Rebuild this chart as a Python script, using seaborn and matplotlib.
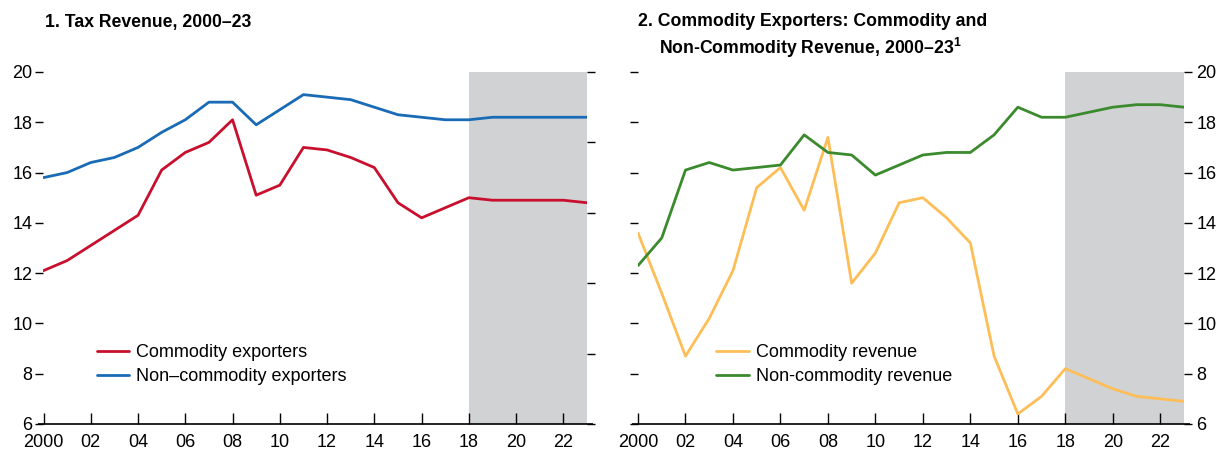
import pandas as pd
import matplotlib
matplotlib.use("Agg")
import matplotlib.pyplot as plt
import seaborn as sns

years = list(range(2000, 2024))

commodity_exporters = [12.1, 12.5, 13.1, 13.7, 14.3, 16.1, 16.8, 17.2, 18.1, 15.1, 15.5, 17.0,
                       16.9, 16.6, 16.2, 14.8, 14.2, 14.6, 15.0, 14.9, 14.9, 14.9, 14.9, 14.8]
non_commodity_exporters = [15.8, 16.0, 16.4, 16.6, 17.0, 17.6, 18.1, 18.8, 18.8, 17.9, 18.5, 19.1,
                           19.0, 18.9, 18.6, 18.3, 18.2, 18.1, 18.1, 18.2, 18.2, 18.2, 18.2, 18.2]

commodity_revenue = [13.6, 11.2, 8.7, 10.2, 12.1, 15.4, 16.2, 14.5, 17.4, 11.6, 12.8, 14.8,
                     15.0, 14.2, 13.2, 8.7, 6.4, 7.1, 8.2, 7.8, 7.4, 7.1, 7.0, 6.9]
non_commodity_revenue = [12.3, 13.4, 16.1, 16.4, 16.1, 16.2, 16.3, 17.5, 16.8, 16.7, 15.9, 16.3,
                         16.7, 16.8, 16.8, 17.5, 18.6, 18.2, 18.2, 18.4, 18.6, 18.7, 18.7, 18.6]

x_ticks = list(range(2000, 2024, 2))
x_labels = ["2000", "02", "04", "06", "08", "10", "12", "14", "16", "18", "20", "22"]
y_ticks = [6, 8, 10, 12, 14, 16, 18, 20]

sns.set_style("white")
plt.rcParams["font.family"] = ["Liberation Sans", "DejaVu Sans"]
plt.rcParams["text.color"] = "black"
plt.rcParams["xtick.color"] = "black"
plt.rcParams["ytick.color"] = "black"
plt.rcParams["mathtext.fontset"] = "custom"
plt.rcParams["mathtext.rm"] = "Liberation Sans"
plt.rcParams["mathtext.bf"] = "Liberation Sans:bold"

RED = "#C8102E"
BLUE = "#1A6BB5"
ORANGE = "#FDBE57"
GREEN = "#3C8A2E"
SHADE = "#D1D2D4"
FS = 13
TFS = 12.7

df1 = pd.DataFrame({
    "year": years * 2,
    "value": commodity_exporters + non_commodity_exporters,
    "series": ["Commodity exporters"] * 24 + ["Non\u2013commodity exporters"] * 24,
})
df2 = pd.DataFrame({
    "year": years * 2,
    "value": commodity_revenue + non_commodity_revenue,
    "series": ["Commodity revenue"] * 24 + ["Non-commodity revenue"] * 24,
})

fig = plt.figure(figsize=(12.16, 4.51), dpi=100)
ax1 = fig.add_axes([43.5 / 1216, 27 / 451, 543.5 / 1216, 352 / 451])
ax2 = fig.add_axes([638 / 1216, 27 / 451, 546 / 1216, 352 / 451])


def style_axis(ax, label_side):
    ax.axvspan(2018, 2023, color=SHADE, lw=0, zorder=0)
    ax.set_xlim(2000, 2023)
    ax.set_ylim(6, 20)
    ax.set_xticks(x_ticks)
    ax.set_xticklabels(x_labels)
    ax.set_yticks(y_ticks)
    ax.set_xlabel("")
    ax.set_ylabel("")
    for s in ax.spines:
        ax.spines[s].set_visible(False)
    # bottom rule runs a tick length past both ends
    ax.plot([-0.011, 1.011], [0, 0], transform=ax.transAxes, color="black",
            lw=1.2, clip_on=False, solid_capstyle="butt")
    ax.tick_params(axis="x", direction="in", length=8, width=1, labelsize=FS, pad=7, bottom=True)
    if label_side == "left":
        ax.tick_params(axis="y", direction="out", length=6, width=1, labelsize=FS, pad=2,
                       left=True, right=False, labelleft=True, labelright=False)
    else:
        ax.tick_params(axis="y", direction="out", length=6, width=1, labelsize=FS, pad=3,
                       left=True, right=True, labelleft=False, labelright=True)


sns.lineplot(data=df1, x="year", y="value", hue="series", palette=[RED, BLUE],
             linewidth=2, ax=ax1, legend=True)
style_axis(ax1, "left")

# unlabelled right-hand scale on panel 1
tw = ax1.twinx()
tw.set_ylim(0, 5)
tw.set_yticks(range(6))
tw.set_yticklabels([])
tw.tick_params(axis="y", direction="out", length=6, width=1, right=True)
for s in tw.spines:
    tw.spines[s].set_visible(False)

sns.lineplot(data=df2, x="year", y="value", hue="series", palette=[ORANGE, GREEN],
             linewidth=2, ax=ax2, legend=True)
style_axis(ax2, "right")

for ax, x0 in [(ax1, 0.098), (ax2, 0.143)]:
    ax.legend(title=None, frameon=False, loc="center left", bbox_to_anchor=(x0, 0.168),
              fontsize=FS, handlelength=1.8, handletextpad=0.4, labelspacing=0.4,
              borderpad=0, borderaxespad=0)

fig.text(45 / 1216, 1 - 22 / 451, "1. Tax Revenue, 2000\u201323", fontsize=TFS,
         fontweight="bold", va="center", ha="left")
fig.text(638 / 1216, 1 - 22 / 451, "2. Commodity Exporters: Commodity and", fontsize=TFS,
         fontweight="bold", va="center", ha="left")
fig.text(659 / 1216, 1 - 48 / 451, r"Non-Commodity Revenue, 2000–23$^{\mathbf{1}}$", fontsize=TFS,
         fontweight="bold", va="center", ha="left")

fig.savefig("out.png", dpi=100)
